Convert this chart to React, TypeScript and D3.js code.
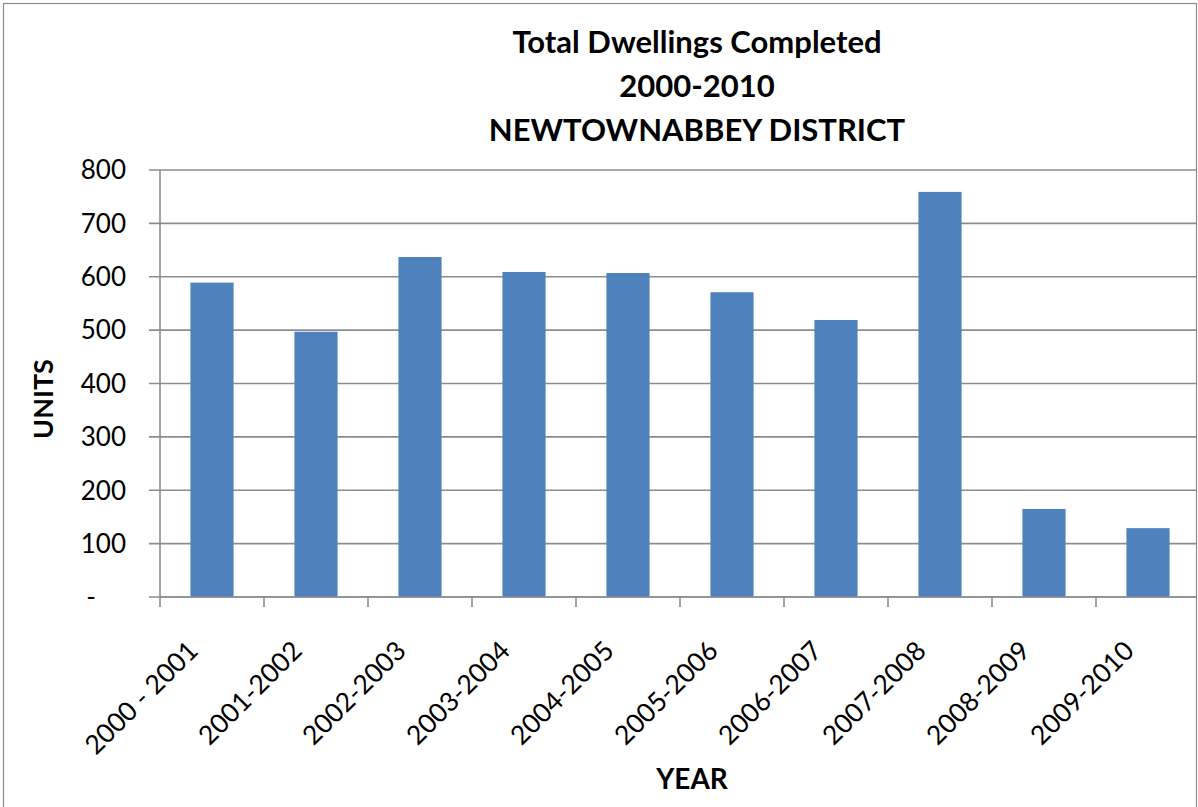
import React from "react";
import * as d3 from "d3";

const categories = [
  "2000 - 2001",
  "2001-2002",
  "2002-2003",
  "2003-2004",
  "2004-2005",
  "2005-2006",
  "2006-2007",
  "2007-2008",
  "2008-2009",
  "2009-2010",
];
const units = [589, 497, 637, 609, 607, 571, 519, 759, 165, 129];
const yTicks = [0, 100, 200, 300, 400, 500, 600, 700, 800];
const titleLines = ["Total Dwellings Completed", "2000-2010", "NEWTOWNABBEY DISTRICT"];

const W = 1198;
const H = 807;
const plot = { left: 160, right: 1200, top: 170, bottom: 597 };
const FONT = "Lato, 'Open Sans', sans-serif";

export default function App() {
  const x = d3
    .scaleBand<string>()
    .domain(categories)
    .range([plot.left, plot.right])
    .paddingInner(0.585)
    .paddingOuter(0.2925);
  const band = d3.scaleBand<string>().domain(categories).range([plot.left, plot.right]);
  const y = d3.scaleLinear().domain([0, 800]).range([plot.bottom, plot.top]);

  const boundaries = categories.map((c) => band(c) as number);

  return (
    <svg
      width={W}
      height={H}
      style={{ position: "absolute", left: 0, top: 0, background: "#fff" }}
      fontFamily={FONT}
    >
      <defs>
        <clipPath id="chartClip">
          <rect x={3} y={3} width={1194} height={H} />
        </clipPath>
      </defs>
      <g clipPath="url(#chartClip)">
        {yTicks.map((t) => (
          <line
            key={"g" + t}
            x1={plot.left - 11}
            x2={plot.right}
            y1={y(t)}
            y2={y(t)}
            stroke="#8c8c8c"
            strokeWidth={1.6}
          />
        ))}
        {categories.map((c, i) => (
          <rect
            key={c}
            x={x(c)}
            y={y(units[i])}
            width={x.bandwidth()}
            height={y(0) - y(units[i])}
            fill="#4F81BD"
          />
        ))}
        <line x1={plot.left} x2={plot.left} y1={plot.top} y2={plot.bottom} stroke="#8c8c8c" strokeWidth={1.6} />
        <line x1={plot.left} x2={plot.right} y1={plot.bottom} y2={plot.bottom} stroke="#8c8c8c" strokeWidth={1.6} />
        {boundaries.map((b, i) => (
          <line key={"t" + i} x1={b} x2={b} y1={plot.bottom} y2={plot.bottom + 10} stroke="#8c8c8c" strokeWidth={1.6} />
        ))}
      </g>
      <rect x={3.5} y={3.5} width={1193} height={H + 10} fill="none" stroke="#8c8c8c" strokeWidth={1.2} />

      {yTicks.map((t) => (
        <text
          key={"yl" + t}
          x={t === 0 ? 96 : 126}
          y={y(t)}
          dy="0.36em"
          textAnchor="end"
          fontSize={26}
          fill="#000"
        >
          {t === 0 ? "-" : d3.format("d")(t)}
        </text>
      ))}

      {categories.map((c) => {
        const cx = (band(c) as number) + band.bandwidth() / 2;
        return (
          <text
            key={"xl" + c}
            transform={`translate(${cx - 26},${plot.bottom + 42}) rotate(-45)`}
            textAnchor="end"
            dy="0.72em"
            fontSize={26.5}
            fill="#000"
          >
            {c}
          </text>
        );
      })}

      {titleLines.map((l, i) => (
        <text
          key={"ti" + i}
          x={697}
          y={53 + i * 44}
          textAnchor="middle"
          fontSize={31}
          fontWeight="bold"
          fill="#000"
        >
          {l}
        </text>
      ))}

      <text
        transform="translate(53,399) rotate(-90)"
        textAnchor="middle"
        fontSize={27}
        fontWeight="bold"
        fill="#000"
      >
        UNITS
      </text>
      <text x={692} y={789} textAnchor="middle" fontSize={28} fontWeight="bold" fill="#000">
        YEAR
      </text>
    </svg>
  );
}
